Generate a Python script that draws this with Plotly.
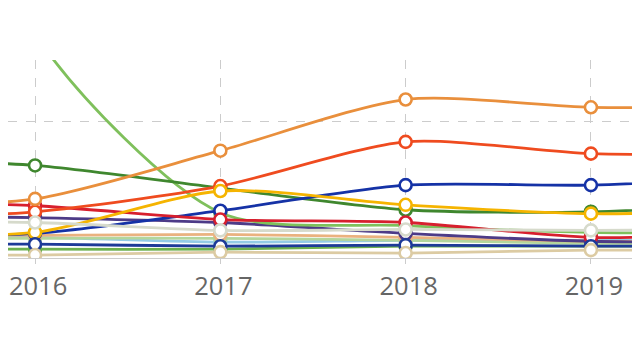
import plotly.graph_objects as go

years = [2015, 2016, 2017, 2018, 2019, 2020]
tick_labels = ["2015", "2016", "2017", "2018", "2019", "2020"]

# series values (arbitrary units, gridline = 100)
beige = [0.0, 0.0, 2.2, 1.5, 3.7, 3.7]
mid_green = [4.4, 4.4, 4.4, 6.6, 6.6, 6.6]
navy = [8.1, 8.1, 6.6, 7.4, 6.6, 6.6]
light_blue = [13.2, 13.2, 9.6, 11.0, 11.0, 11.0]
pale_green = [12.5, 12.5, 12.5, 11.0, 8.8, 8.8]
tan_orange = [16.2, 14.7, 15.4, 13.2, 10.3, 10.3]
light_gray = [25.0, 24.3, 18.4, 19.1, 18.4, 19.1]
purple = [30.1, 27.9, 24.3, 16.2, 10.3, 9.6]
crimson = [40.4, 36.8, 26.5, 24.3, 13.2, 16.9]
light_green = [520.0, 165.0, 31.6, 22.0, 17.0, 16.0]
dark_green = [72.0, 66.9, 50.0, 33.8, 32.3, 39.0]
amber = [16.2, 16.9, 47.8, 37.5, 30.9, 33.8]
royal_blue = [14.0, 16.2, 33.1, 52.2, 52.2, 58.8]
vermilion = [26.5, 32.3, 51.5, 84.5, 75.7, 75.7]
orange = [36.8, 41.9, 77.9, 116.1, 110.3, 111.0]

series = [
    ("mid_green", mid_green, "#6cb04e"),
    ("light_blue", light_blue, "#93cbe6"),
    ("pale_green", pale_green, "#b3d69c"),
    ("tan_orange", tan_orange, "#eab27f"),
    ("purple", purple, "#4d3b87"),
    ("light_green", light_green, "#7fc05c"),
    ("dark_green", dark_green, "#3f872e"),
    ("royal_blue", royal_blue, "#1532a6"),
    ("crimson", crimson, "#d71f2e"),
    ("vermilion", vermilion, "#ef4b1f"),
    ("orange", orange, "#e98f3c"),
    ("amber", amber, "#f5b400"),
    ("light_gray", light_gray, "#d6dacb"),
    ("navy", navy, "#1d3a98"),
    ("beige", beige, "#dccba3"),
]

fig = go.Figure()
for name, vals, col in series:
    fig.add_trace(go.Scatter(
        x=years, y=vals, name=name, mode="lines+markers",
        line=dict(color=col, width=2.8, shape="spline", smoothing=0.75),
        marker=dict(size=12, color="white", line=dict(color=col, width=2.6)),
        cliponaxis=True,
    ))

# the page body adds an 8px offset; margins/ranges compensate for it
fig.update_layout(
    width=640, height=357,
    margin=dict(l=0, r=0, t=52, b=107),
    paper_bgcolor="white", plot_bgcolor="white",
    showlegend=False,
    font=dict(family="Open Sans", color="#6e6e6e"),
)
fig.update_xaxes(
    range=[2015.854, 2019.308],
    tickvals=years, ticktext=tick_labels,
    showgrid=True, gridcolor="#cccccc", griddash="dash", gridwidth=1.2,
    showline=True, linecolor="#cccccc", linewidth=1,
    ticks="outside", ticklen=5, tickcolor="#cccccc",
    tickfont=dict(size=25.5, color="#666666", family="Open Sans"),
    ticklabeloverflow="allow", ticklabelshift=3,
    zeroline=False, automargin=False,
)
fig.update_yaxes(
    range=[-2.2, 145.6],
    tickvals=[100], showticklabels=False,
    showgrid=True, gridcolor="#cccccc", griddash="dash", gridwidth=1.2,
    zeroline=False, showline=False, automargin=False,
)

fig.write_html("out.html")
